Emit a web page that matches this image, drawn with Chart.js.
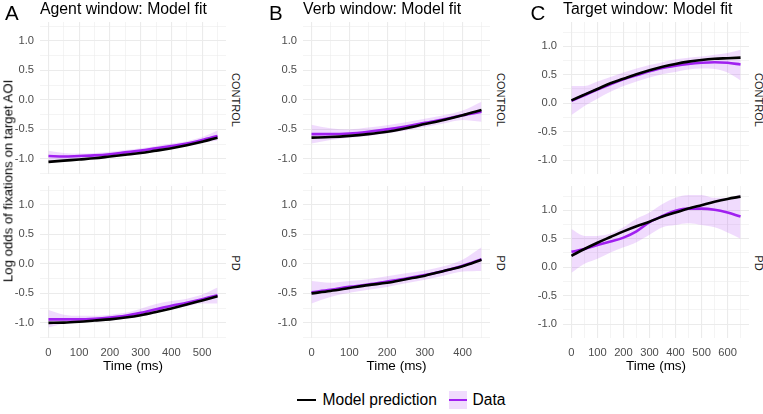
<!DOCTYPE html>
<html><head><meta charset="utf-8">
<script src="https://cdn.jsdelivr.net/npm/chart.js@4.4.0/dist/chart.umd.min.js"></script>
<style>
html,body{margin:0;padding:0;background:#fff;}
body{width:763px;height:414px;position:relative;overflow:hidden;font-family:'Liberation Sans',Arial,sans-serif;}
canvas{position:absolute;}
.t{position:absolute;white-space:nowrap;line-height:1;color:#000;}
.strip{position:absolute;white-space:nowrap;line-height:1;color:#1A1A1A;font-size:11px;transform:translate(-50%,-50%) rotate(90deg);}
</style></head><body>
<canvas id="a1" width="226" height="152" style="left:0px;top:22px"></canvas>
<canvas id="a2" width="226" height="190" style="left:0px;top:186px"></canvas>
<canvas id="b1" width="227" height="152" style="left:263px;top:22px"></canvas>
<canvas id="b2" width="227" height="190" style="left:263px;top:186px"></canvas>
<canvas id="c1" width="226" height="152" style="left:523px;top:22px"></canvas>
<canvas id="c2" width="226" height="190" style="left:523px;top:186px"></canvas>

<div class="t" style="left:5px;top:2.5px;font-size:20.5px">A</div>
<div class="t" style="left:40px;top:0.6px;font-size:15.8px">Agent window: Model fit</div>
<div class="t" style="left:269px;top:2.5px;font-size:20.5px">B</div>
<div class="t" style="left:303px;top:0.6px;font-size:15.8px">Verb window: Model fit</div>
<div class="t" style="left:530.5px;top:2.5px;font-size:20.5px">C</div>
<div class="t" style="left:563px;top:0.6px;font-size:15.8px">Target window: Model fit</div>

<div class="t" style="left:8px;top:181px;font-size:13.2px;transform:translate(-50%,-50%) rotate(-90deg)">Log odds of fixations on target AOI</div>

<div class="strip" style="left:235px;top:100px">CONTROL</div>
<div class="strip" style="left:235px;top:263px">PD</div>
<div class="strip" style="left:500px;top:100px">CONTROL</div>
<div class="strip" style="left:500px;top:263px">PD</div>
<div class="strip" style="left:758px;top:100px">CONTROL</div>
<div class="strip" style="left:758px;top:263px">PD</div>

<div style="position:absolute;left:297px;top:398.7px;width:19px;height:2.6px;background:#000"></div>
<div class="t" style="left:322.5px;top:392.4px;font-size:15.6px">Model prediction</div>
<div style="position:absolute;left:449px;top:391px;width:17.5px;height:17.5px;background:rgba(160,32,240,0.16)"></div>
<div style="position:absolute;left:449px;top:398.7px;width:17.5px;height:2.6px;background:#A020F0"></div>
<div class="t" style="left:472.5px;top:392.4px;font-size:15.6px">Data</div>

<script>
// ---- Agent window ----
const timeAgent = [0,50,100,150,200,250,300,350,400,450,500,550];
const agentControlModel = [-1.05,-1.03,-1.01,-0.99,-0.96,-0.93,-0.90,-0.86,-0.82,-0.77,-0.71,-0.64];
const agentControlData  = [-0.95,-0.96,-0.95,-0.94,-0.92,-0.89,-0.86,-0.82,-0.78,-0.74,-0.68,-0.61];
const agentControlLower = [-1.04,-1.02,-1.00,-0.98,-0.96,-0.93,-0.90,-0.86,-0.82,-0.78,-0.73,-0.69];
const agentControlUpper = [-0.86,-0.90,-0.91,-0.90,-0.88,-0.85,-0.82,-0.78,-0.74,-0.70,-0.63,-0.52];
const agentPDModel = [-1.00,-0.995,-0.98,-0.96,-0.94,-0.91,-0.87,-0.815,-0.755,-0.69,-0.62,-0.55];
const agentPDData  = [-0.94,-0.94,-0.94,-0.93,-0.91,-0.88,-0.83,-0.77,-0.71,-0.66,-0.60,-0.53];
const agentPDLower = [-1.08,-1.01,-0.99,-0.98,-0.96,-0.93,-0.88,-0.83,-0.77,-0.72,-0.67,-0.67];
const agentPDUpper = [-0.78,-0.86,-0.88,-0.88,-0.86,-0.83,-0.76,-0.68,-0.63,-0.59,-0.52,-0.40];

// ---- Verb window ----
const timeVerb = [0,50,100,150,200,250,300,350,400,450];
const verbControlModel = [-0.64,-0.63,-0.61,-0.58,-0.54,-0.48,-0.41,-0.34,-0.26,-0.17];
const verbControlData  = [-0.58,-0.58,-0.57,-0.54,-0.50,-0.45,-0.39,-0.33,-0.26,-0.20];
const verbControlLower = [-0.74,-0.68,-0.64,-0.61,-0.57,-0.52,-0.46,-0.40,-0.34,-0.37];
const verbControlUpper = [-0.42,-0.48,-0.50,-0.47,-0.43,-0.38,-0.32,-0.26,-0.18,-0.03];
const verbPDModel = [-0.50,-0.46,-0.41,-0.36,-0.32,-0.26,-0.20,-0.12,-0.04,0.07];
const verbPDData  = [-0.48,-0.44,-0.39,-0.35,-0.30,-0.25,-0.19,-0.12,-0.03,0.08];
const verbPDLower = [-0.67,-0.56,-0.49,-0.44,-0.39,-0.33,-0.27,-0.20,-0.13,-0.12];
const verbPDUpper = [-0.29,-0.32,-0.29,-0.26,-0.21,-0.16,-0.11,-0.04,0.07,0.28];

// ---- Target window ----
const timeTarget = [0,50,100,150,200,250,300,350,400,450,500,550,600,650];
const targetControlModel = [0.05,0.15,0.25,0.35,0.43,0.51,0.58,0.64,0.69,0.73,0.76,0.78,0.79,0.80];
const targetControlData  = [0.04,0.14,0.24,0.33,0.42,0.49,0.56,0.62,0.66,0.69,0.71,0.72,0.71,0.68];
const targetControlLower = [-0.21,-0.05,0.08,0.20,0.30,0.38,0.45,0.51,0.55,0.59,0.61,0.60,0.54,0.40];
const targetControlUpper = [0.30,0.30,0.38,0.46,0.54,0.61,0.67,0.72,0.77,0.80,0.82,0.85,0.88,0.94];
const targetPDModel = [0.20,0.32,0.43,0.53,0.63,0.72,0.80,0.89,0.96,1.03,1.09,1.15,1.20,1.24];
const targetPDData  = [0.27,0.32,0.39,0.45,0.52,0.63,0.79,0.90,0.99,1.03,1.03,1.01,0.96,0.89];
const targetPDLower = [-0.10,0.06,0.15,0.26,0.35,0.44,0.57,0.70,0.74,0.77,0.74,0.70,0.61,0.50];
const targetPDUpper = [0.67,0.55,0.55,0.59,0.70,0.85,0.96,1.11,1.22,1.27,1.27,1.22,1.22,1.28];

// ---- axis ticks ----
const xTicksAgent = [0,50,100,150,200,250,300,350,400,450,500,550];
const xTicksVerb = [0,50,100,150,200,250,300,350,400,450];
const xTicksTarget = [0,50,100,150,200,250,300,350,400,450,500,550,600,650];
const yTicksAB = [-1.25,-1,-0.75,-0.5,-0.25,0,0.25,0.5,0.75,1,1.25];
const yTicksC = [-1,-0.75,-0.5,-0.25,0,0.25,0.5,0.75,1,1.25];

const PURPLE = '#A020F0';
const RIBBON = 'rgba(160,32,240,0.16)';
const GRID = '#EBEBEB';
Chart.defaults.font.family = "'Liberation Sans', Arial, sans-serif";

function zip(t, v){ return t.map((x,i)=>({x:x, y:v[i]})); }
const isMajorY = v => Math.abs(v*2 - Math.round(v*2)) < 1e-9;
const isMajorX = v => Math.abs(v % 100) < 1e-9;

function panel(id, p){
  new Chart(document.getElementById(id), {
    type: 'line',
    data: { datasets: [
      {data: zip(p.t, p.lo), borderWidth: 0, pointRadius: 0, fill: false, order: 3, cubicInterpolationMode: 'monotone'},
      {data: zip(p.t, p.hi), borderWidth: 0, pointRadius: 0, fill: '-1', backgroundColor: RIBBON, order: 2, cubicInterpolationMode: 'monotone'},
      {data: zip(p.t, p.data), borderColor: PURPLE, borderWidth: 2.6, pointRadius: 0, fill: false, order: 1, cubicInterpolationMode: 'monotone'},
      {data: zip(p.t, p.model), borderColor: '#000', borderWidth: 2.6, pointRadius: 0, fill: false, order: 0, cubicInterpolationMode: 'monotone'}
    ]},
    options: {
      responsive: false, animation: false, devicePixelRatio: 1, events: [],
      layout: {padding: 0},
      plugins: {legend: {display: false}, tooltip: {enabled: false}},
      scales: {
        x: {
          type: 'linear', min: p.xmin, max: p.xmax, bounds: 'data',
          border: {display: false},
          grid: {color: GRID, drawTicks: false, lineWidth: c => (c.tick && isMajorX(c.tick.value)) ? 1.1 : 0.55},
          ticks: {display: p.showX, color: '#4D4D4D', font: {size: 11.2}, padding: 8, autoSkip: false, maxRotation: 0,
                  callback: v => isMajorX(v) ? String(v) : ''},
          title: {display: p.showX, text: 'Time (ms)', color: '#000', font: {size: 13.5}, padding: {top: 0, bottom: 2}},
          afterBuildTicks: s => { s.ticks = p.xt.map(v => ({value: v})); },
          afterFit: s => { s.height = p.showX ? 38 : 0; s.paddingLeft = 0; s.paddingRight = 0; }
        },
        y: {
          type: 'linear', position: 'left', min: p.ymin, max: p.ymax, bounds: 'data',
          border: {display: false},
          grid: {color: GRID, drawTicks: false, lineWidth: c => (c.tick && isMajorY(c.tick.value)) ? 1.1 : 0.55},
          ticks: {color: '#4D4D4D', font: {size: 11.2}, padding: 6, autoSkip: false,
                  callback: v => isMajorY(v) ? v.toFixed(1) : ''},
          afterBuildTicks: s => { s.ticks = p.yt.map(v => ({value: v})); },
          afterFit: s => { s.width = 40; s.paddingTop = 0; s.paddingBottom = 0; }
        }
      }
    }
  });
}

const abY = {ymin: -1.256, ymax: 1.32, yt: yTicksAB};
const cY = {ymin: -1.245, ymax: 1.427, yt: yTicksC};
const agX = {xmin: -27.5, xmax: 577.5, xt: xTicksAgent};
const vbX = {xmin: -22.5, xmax: 472.5, xt: xTicksVerb};
const tgX = {xmin: -32.5, xmax: 682.5, xt: xTicksTarget};

panel('a1', Object.assign({t: timeAgent, model: agentControlModel, data: agentControlData, lo: agentControlLower, hi: agentControlUpper, showX: false}, abY, agX));
panel('a2', Object.assign({t: timeAgent, model: agentPDModel, data: agentPDData, lo: agentPDLower, hi: agentPDUpper, showX: true}, abY, agX));
panel('b1', Object.assign({t: timeVerb, model: verbControlModel, data: verbControlData, lo: verbControlLower, hi: verbControlUpper, showX: false}, abY, vbX));
panel('b2', Object.assign({t: timeVerb, model: verbPDModel, data: verbPDData, lo: verbPDLower, hi: verbPDUpper, showX: true}, abY, vbX));
panel('c1', Object.assign({t: timeTarget, model: targetControlModel, data: targetControlData, lo: targetControlLower, hi: targetControlUpper, showX: false}, cY, tgX));
panel('c2', Object.assign({t: timeTarget, model: targetPDModel, data: targetPDData, lo: targetPDLower, hi: targetPDUpper, showX: true}, cY, tgX));
</script>
</body></html>
